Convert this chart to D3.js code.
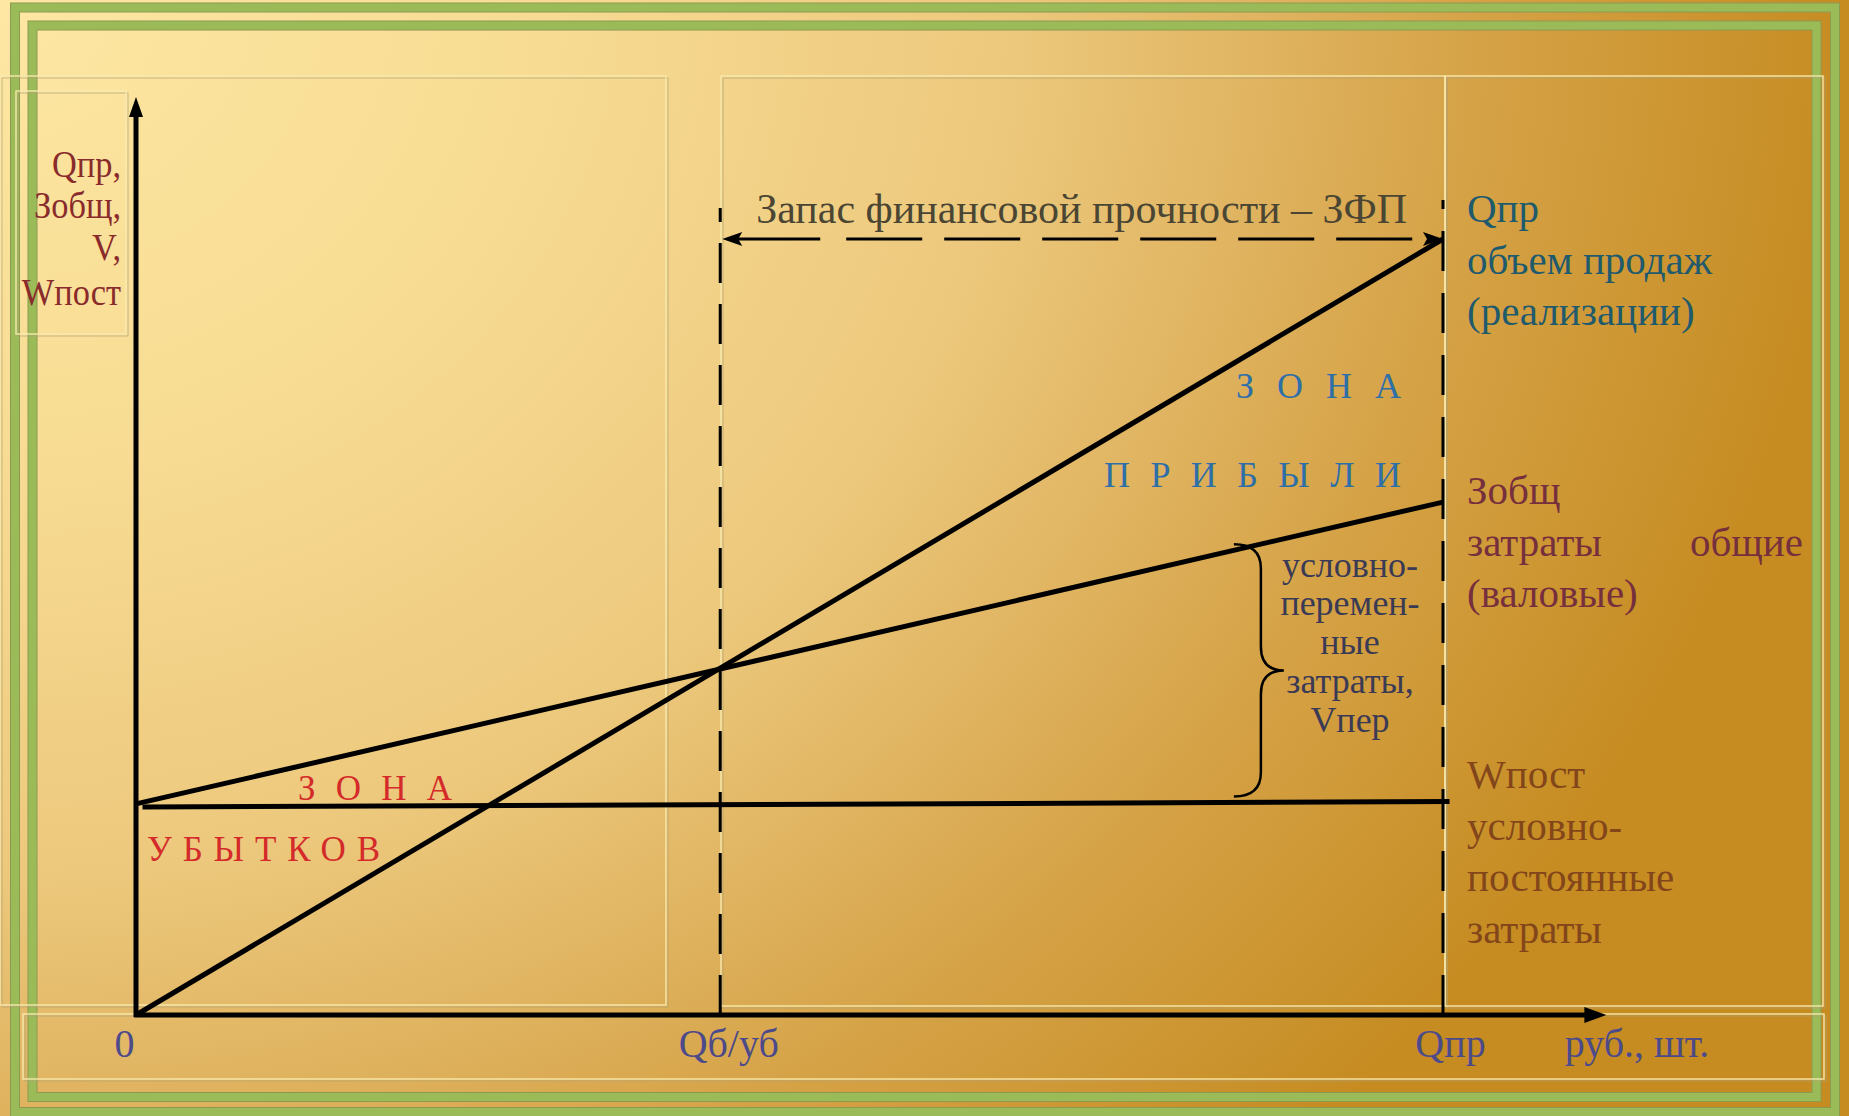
<!DOCTYPE html>
<html lang="ru">
<head>
<meta charset="utf-8">
<title>Запас финансовой прочности</title>
<script src="https://cdnjs.cloudflare.com/ajax/libs/d3/7.8.5/d3.min.js"></script>
<style>
  body { margin: 0; background: #c89028; overflow: hidden; }
  svg { display: block; font-family: "Liberation Serif", "Times New Roman", serif; }
</style>
</head>
<body>
<script>
// объём реализации по оси X (условные единицы)
var qSales = 100;          // Qпр
var qBreakEven = 44.7;     // Qб/уб – точка безубыточности
var xAxisEnd = 112.5;      // конец оси X (стрелка)
var yAxisEnd = 118.3;      // конец оси Y (стрелка)

// значения линий в точках 0 и Qпр
var salesValues = [0, 100];          // Qпр – выручка
var totalCostValues = [27.2, 66.1];  // Зобщ – общие затраты
var fixedCostValues = [26.8, 27.5];  // Wпост – постоянные затраты
var braceQ = 84;                     // где стоит фигурная скобка Vпер

var xTickValues = [0, qBreakEven, qSales];
var xTickLabels = ["0", "Qб/уб", "Qпр"];
var xUnitLabel = "руб., шт.";
var yAxisLabels = ["Qпр,", "Зобщ,", "V,", "Wпост"];
var zfpTitle = "Запас финансовой прочности – ЗФП";
var braceLabel = ["условно-", "перемен-", "ные", "затраты,", "Vпер"];
var salesLabel = ["Qпр", "объем продаж", "(реализации)"];
var totalLabel = ["Зобщ", ["затраты", "общие"], "(валовые)"];
var fixedLabel = ["Wпост", "условно-", "постоянные", "затраты"];

var w = 1849, h = 1116;

var svg = d3.select("body").append("svg")
  .attr("width", w)
  .attr("height", h);

var defs = svg.append("defs");
var grad = defs.append("radialGradient")
  .attr("id", "bg")
  .attr("gradientUnits", "userSpaceOnUse")
  .attr("cx", 0).attr("cy", 0).attr("fx", 0).attr("fy", 0).attr("r", 1850)
  .attr("gradientTransform", "scale(1,0.865)");
[[0, "#fde7a3"], [0.3, "#f7db92"], [0.55, "#ecc87c"], [0.68, "#e0b461"], [0.8, "#d5a246"], [1, "#c68c22"]]
  .forEach(function (s) {
    grad.append("stop").attr("offset", s[0]).attr("stop-color", s[1]);
  });

svg.append("rect").attr("width", w).attr("height", h).attr("fill", "url(#bg)");

// зелёные рамки слайда
function frame(x, y, fw, fh) {
  svg.append("rect").attr("x", x).attr("y", y).attr("width", fw).attr("height", fh)
    .attr("fill", "none").attr("stroke", "#8c9a50").attr("stroke-width", 10);
  svg.append("rect").attr("x", x).attr("y", y).attr("width", fw).attr("height", fh)
    .attr("fill", "none").attr("stroke", "#9bbb59").attr("stroke-width", 8);
}
frame(15, 7.5, 1820, 1104.5);
frame(32.5, 25.5, 1784, 1071.5);

// тонкие рамки текстовых полей
function box(x, y, bw, bh) {
  svg.append("rect").attr("x", x + 2).attr("y", y + 2).attr("width", bw).attr("height", bh)
    .attr("fill", "none").attr("stroke", "#b5a474").attr("stroke-width", 1).attr("opacity", 0.7);
  svg.append("rect").attr("x", x).attr("y", y).attr("width", bw).attr("height", bh)
    .attr("fill", "none").attr("stroke", "#f8eaae").attr("stroke-width", 1.5).attr("opacity", 0.9);
}
box(0, 76, 666, 929);
box(721, 76, 724, 930);
box(1445, 76, 378, 930);
box(23, 1014, 1801, 65);
box(16, 91, 110, 243);

var x = d3.scaleLinear().domain([0, qSales]).range([136, 1443]);
var y = d3.scaleLinear().domain([0, 100]).range([1015, 239]);

var line = d3.line()
  .x(function (d) { return x(d[0]); })
  .y(function (d) { return y(d[1]); });

function pts(vals, q0) {
  return vals.map(function (v, i) { return [(q0 || 0) + i * qSales, v]; });
}
function valueAt(vals, q) {
  return vals[0] + (vals[1] - vals[0]) * q / qSales;
}

var chart = svg.append("g");

// штриховые вертикали Qб/уб и Qпр
chart.append("line")
  .attr("x1", x(qBreakEven)).attr("x2", x(qBreakEven))
  .attr("y1", y(0)).attr("y2", y(100) - 31)
  .attr("stroke", "#000").attr("stroke-width", 3)
  .attr("stroke-dasharray", "40,21");
chart.append("line")
  .attr("x1", x(qSales)).attr("x2", x(qSales))
  .attr("y1", y(0)).attr("y2", y(100) - 39)
  .attr("stroke", "#000").attr("stroke-width", 3)
  .attr("stroke-dasharray", "40,22");

// стрелка ЗФП
chart.append("line")
  .attr("x1", x(qBreakEven) + 14).attr("x2", x(qSales) - 14)
  .attr("y1", y(salesValues[1])).attr("y2", y(salesValues[1]))
  .attr("stroke", "#000").attr("stroke-width", 3)
  .attr("stroke-dasharray", "86,26,76,22,76,22,76,22,76,22,76,22,76,22,90");
function head(tx, ty, dir, len, half) {
  chart.append("path")
    .attr("d", "M" + tx + "," + ty + "L" + (tx - dir * len) + "," + (ty - half) +
      "L" + (tx - dir * len * 0.8) + "," + ty + "L" + (tx - dir * len) + "," + (ty + half) + "Z")
    .attr("fill", "#000");
}
head(x(qBreakEven) + 2, y(salesValues[1]), -1, 20, 7);
head(x(qSales), y(salesValues[1]), 1, 20, 7);

// линии графика
chart.append("path").datum(pts(fixedCostValues, 0.5))
  .attr("d", line)
  .attr("stroke", "#000").attr("stroke-width", 5).attr("fill", "none");
chart.append("path").datum(pts(totalCostValues))
  .attr("d", line)
  .attr("stroke", "#000").attr("stroke-width", 5).attr("fill", "none");
chart.append("path").datum(pts(salesValues))
  .attr("d", line)
  .attr("stroke", "#000").attr("stroke-width", 5).attr("fill", "none");

// оси
chart.append("line")
  .attr("x1", x(0)).attr("x2", x(0)).attr("y1", y(0) + 2).attr("y2", y(yAxisEnd) + 16)
  .attr("stroke", "#000").attr("stroke-width", 5);
chart.append("path")
  .attr("d", "M" + x(0) + "," + y(yAxisEnd) + "L" + (x(0) - 7) + "," + (y(yAxisEnd) + 20) +
    "L" + (x(0) + 7) + "," + (y(yAxisEnd) + 20) + "Z")
  .attr("fill", "#000");
chart.append("line")
  .attr("x1", x(0) - 2).attr("x2", x(xAxisEnd) - 16).attr("y1", y(0)).attr("y2", y(0))
  .attr("stroke", "#000").attr("stroke-width", 5);
chart.append("path")
  .attr("d", "M" + x(xAxisEnd) + "," + y(0) + "L" + (x(xAxisEnd) - 22) + "," + (y(0) - 8) +
    "L" + (x(xAxisEnd) - 22) + "," + (y(0) + 8) + "Z")
  .attr("fill", "#000");

// подписи оси X через d3.axisBottom
var xAxis = d3.axisBottom(x)
  .tickValues(xTickValues)
  .tickFormat(function (d, i) { return xTickLabels[i]; })
  .tickSize(0)
  .tickPadding(14);
var gx = chart.append("g")
  .attr("transform", "translate(0," + y(0) + ")")
  .call(xAxis);
gx.select(".domain").remove();
var tickShift = [-12, 8, 7];
gx.selectAll("text")
  .attr("font-family", "Liberation Serif, serif")
  .attr("font-size", 40)
  .attr("fill", "#4d4a8a")
  .attr("dx", function (d, i) { return tickShift[i]; });

chart.append("text")
  .attr("x", 1637).attr("y", 1057)
  .attr("text-anchor", "middle")
  .attr("font-size", 40).attr("fill", "#4d4a8a")
  .text(xUnitLabel);

// подпись оси Y
var yl = chart.append("g");
yAxisLabels.forEach(function (t, i) {
  yl.append("text")
    .attr("transform", "translate(121," + [177, 218, 260, 305][i] + ") scale(0.93,1)")
    .attr("text-anchor", "end")
    .attr("font-size", 37).attr("fill", "#8a2b2b")
    .text(t);
});

// заголовок ЗФП
chart.append("text")
  .attr("x", (x(qBreakEven) + x(qSales)) / 2).attr("y", 223)
  .attr("text-anchor", "middle")
  .attr("font-size", 42).attr("fill", "#4a4633")
  .text(zfpTitle);

// зоны
function spaced(str, x0, base, len, size, color) {
  chart.append("text")
    .attr("x", x0).attr("y", base)
    .attr("font-size", size).attr("fill", color)
    .attr("textLength", len).attr("lengthAdjust", "spacing")
    .text(str);
}
spaced("ЗОНА", 1236, 398, 165, 36, "#2e6fa8");
spaced("ПРИБЫЛИ", 1104, 487, 297, 36, "#2e6fa8");
spaced("ЗОНА", 298, 800, 154, 35, "#d42a2a");
spaced("УБЫТКОВ", 147, 861, 233, 35, "#d42a2a");

// фигурная скобка Vпер
var bx0 = x(braceQ), bx1 = bx0 + 27, bx2 = bx0 + 50;
var byT = y(valueAt(totalCostValues, braceQ)) - 6, byB = y(valueAt(fixedCostValues, braceQ)) - 6;
var bym = (byT + byB) / 2, r = 24;
chart.append("path")
  .attr("d", "M" + bx0 + "," + byT +
    "Q" + bx1 + "," + byT + " " + bx1 + "," + (byT + r) +
    "L" + bx1 + "," + (bym - r) +
    "Q" + bx1 + "," + bym + " " + bx2 + "," + bym +
    "Q" + bx1 + "," + bym + " " + bx1 + "," + (bym + r) +
    "L" + bx1 + "," + (byB - r) +
    "Q" + bx1 + "," + byB + " " + bx0 + "," + byB)
  .attr("fill", "none").attr("stroke", "#000").attr("stroke-width", 2.5);

braceLabel.forEach(function (t, i) {
  chart.append("text")
    .attr("x", 1350).attr("y", [577, 615, 654, 693, 732][i])
    .attr("text-anchor", "middle")
    .attr("font-size", 36).attr("fill", "#3a3a55")
    .text(t);
});

// правые подписи
function block(lines, base, color) {
  lines.forEach(function (t, i) {
    var yy = base + i * 51.5;
    if (Array.isArray(t)) {
      chart.append("text").attr("x", 1467).attr("y", yy)
        .attr("font-size", 41).attr("fill", color).text(t[0]);
      chart.append("text").attr("x", 1803).attr("y", yy).attr("text-anchor", "end")
        .attr("font-size", 41).attr("fill", color).text(t[1]);
    } else {
      chart.append("text").attr("x", 1467).attr("y", yy)
        .attr("font-size", 41).attr("fill", color).text(t);
    }
  });
}
block(salesLabel, 222, "#1f5a6d");
block(totalLabel, 504, "#762f3c");
block(fixedLabel, 788, "#83461a");
</script>
</body>
</html>
